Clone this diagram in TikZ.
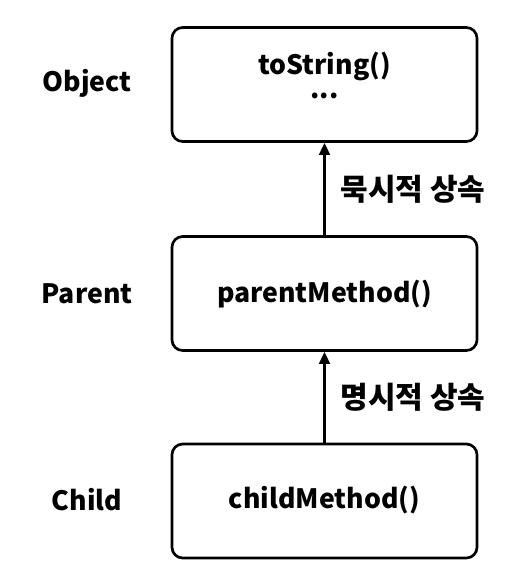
\documentclass[tikz,border=0pt]{standalone}
\usepackage{fontspec}
\setmainfont{Noto Sans CJK KR}[BoldFont={* Black}]
\usetikzlibrary{arrows.meta}
\begin{document}
\begin{tikzpicture}[x=0.75pt,y=-0.75pt,
  cls/.style={draw,line width=2pt,rounded corners=8pt,minimum width=228.75pt,minimum height=85.5pt,inner sep=0pt},
  lbl/.style={font=\bfseries\fontsize{20}{22}\selectfont},
  klbl/.style={font=\bfseries\fontsize{22.5}{24}\selectfont,inner sep=0pt},
  inh/.style={line width=2pt,-{Triangle[length=9pt,width=8pt]}}]
\useasboundingbox (0,0) rectangle (522,587);
\node[cls] (obj) at (324.5,84.5) {};
\node[lbl] (objm) at (324.5,66) {toString()};
\node[lbl,inner sep=0pt] (dots) at (324.5,96) {...};
\node[cls] (par) at (324.5,293.5) {};
\node[lbl] (parm) at (324.5,294) {parentMethod()};
\node[cls] (chi) at (324.5,501) {};
\node[lbl] (chim) at (324.5,500) {childMethod()};
\node[lbl] (objn) at (87,83) {Object};
\node[lbl] (parn) at (87,294) {Parent};
\node[lbl] (chin) at (87,500) {Child};
\draw[inh] (par.north) -- (obj.south) node[midway,right=11pt,klbl] (l1) {묵시적 상속};
\draw[inh] (chi.north) -- (par.south) node[midway,right=11pt,klbl] (l2) {명시적 상속};
\end{tikzpicture}
\end{document}
